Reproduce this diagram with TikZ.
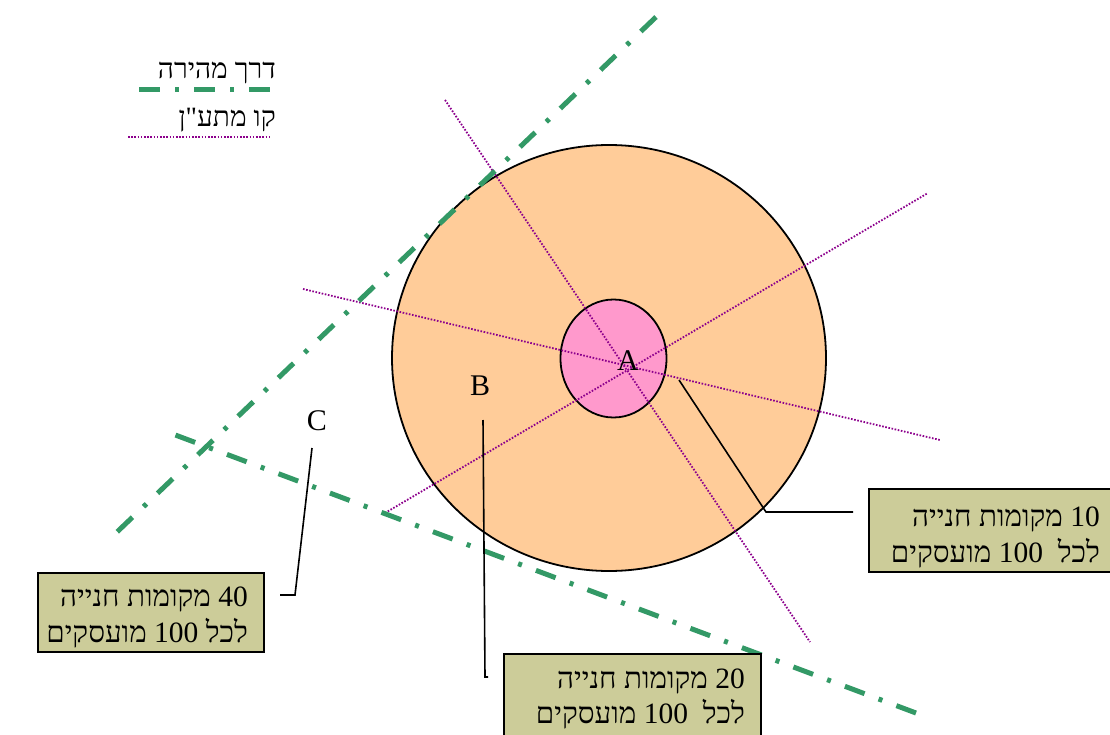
\documentclass[tikz,border=0pt]{standalone}
\usepackage{fontspec}
\usetikzlibrary{shapes.geometric}
\setmainfont{Liberation Serif}
\newfontfamily\hebfont[Script=Hebrew]{Liberation Serif}
\TeXXeTstate=1
\definecolor{peach}{RGB}{255,204,153}
\definecolor{pinkc}{RGB}{255,153,204}
\definecolor{khaki}{RGB}{204,204,153}
\definecolor{roadgreen}{RGB}{51,153,102}
\definecolor{railpurple}{RGB}{140,0,140}
\tikzset{
  road/.style={draw=roadgreen, line width=5pt, dash pattern=on 21pt off 15pt on 4pt off 15pt},
  rail/.style={draw=railpurple, line width=1.8pt, dash pattern=on 1.6pt off 1.6pt},
  infobox/.style={draw=black, line width=1.6pt, fill=khaki, inner sep=0pt, anchor=north west},
  boxtext/.style={font=\hebfont\fontsize{29.5}{35}\selectfont, inner sep=0pt, anchor=base east},
  legendtext/.style={font=\hebfont\fontsize{28}{32}\selectfont, inner sep=0pt, anchor=base east},
  letter/.style={font=\fontsize{30}{36}\selectfont, inner sep=0pt},
  leader/.style={draw=black, line width=1.6pt}
}
\begin{document}
\begin{tikzpicture}[x=1pt,y=-1pt]
\useasboundingbox (0,0) rectangle (1110,735);
% zones
\node (outer) [draw=black, line width=1.8pt, fill=peach, ellipse, minimum width=434pt, minimum height=426pt, inner sep=0pt] at (609,358) {};
\node (inner) [draw=black, line width=1.8pt, fill=pinkc, ellipse, minimum width=106pt, minimum height=118pt, inner sep=0pt] at (613.5,358.5) {};
% rail lines
\coordinate (r1a) at (445,100); \coordinate (r1b) at (810,642);
\coordinate (r2a) at (303,289); \coordinate (r2b) at (940,440);
\coordinate (r3a) at (385,513); \coordinate (r3b) at (928,193);
\draw[rail] (r1a) -- (r1b);
\draw[rail] (r2a) -- (r2b);
\draw[rail] (r3a) -- (r3b);
% roads
\coordinate (g1a) at (656,17); \coordinate (g1b) at (117,532);
\coordinate (g2a) at (162,430); \coordinate (g2b) at (916,713);
\draw[road, dash pattern=on 21pt off 15.35pt on 4pt off 15.35pt] (g1a) -- (g1b);
\draw[road, dash phase=40.6pt] (g2a) -- (g2b);
% letters
\node (A) [letter] at (628,361) {A};
\node (B) [letter] at (480,386) {B};
\node (C) [letter] at (317,421) {C};
% boxes
\node (box10) [infobox, minimum width=246pt, minimum height=83pt] at (868,488) {};
\node (box40) [infobox, minimum width=226pt, minimum height=79pt] at (37,572) {};
\node (box20) [infobox, minimum width=257pt, minimum height=90pt] at (503,653) {};
\node (t10a) [boxtext] at (1100,526) {\beginR 10 מקומות חנייה\endR};
\node (t10b) [boxtext] at (1100,562) {\beginR לכל\ \ 100 מועסקים\endR};
\node (t40a) [boxtext] at (248,606) {\beginR 40 מקומות חנייה\endR};
\node (t40b) [boxtext] at (248,642) {\beginR לכל 100 מועסקים\endR};
\node (t20a) [boxtext] at (745,688) {\beginR 20 מקומות חנייה\endR};
\node (t20b) [boxtext] at (745,723) {\beginR לכל\ \ 100 מועסקים\endR};
% leaders
\coordinate (l10s) at (679,380); \coordinate (l10m) at (766,512); \coordinate (l10e) at (853,512);
\draw[leader] (l10s) -- (l10m) -- (l10e);
\coordinate (l40s) at (312,448); \coordinate (l40m) at (295,595); \coordinate (l40e) at (280,595);
\draw[leader] (l40s) -- (l40m) -- (l40e);
\coordinate (l20s) at (483,420); \coordinate (l20m) at (485,677); \coordinate (l20e) at (488,677);
\draw[leader] (l20s) -- (l20m) -- (l20e);
% legend
\node (legroad) [legendtext] at (276,79) {\beginR דרך מהירה\endR};
\node (legrail) [legendtext] at (276,127) {\beginR קו מתע"ן\endR};
\coordinate (lg1) at (139,90); \coordinate (lg2) at (278,90);
\draw[road] (lg1) -- (lg2);
\coordinate (lp1) at (128,137); \coordinate (lp2) at (271,137);
\draw[rail] (lp1) -- (lp2);
\end{tikzpicture}
\end{document}
